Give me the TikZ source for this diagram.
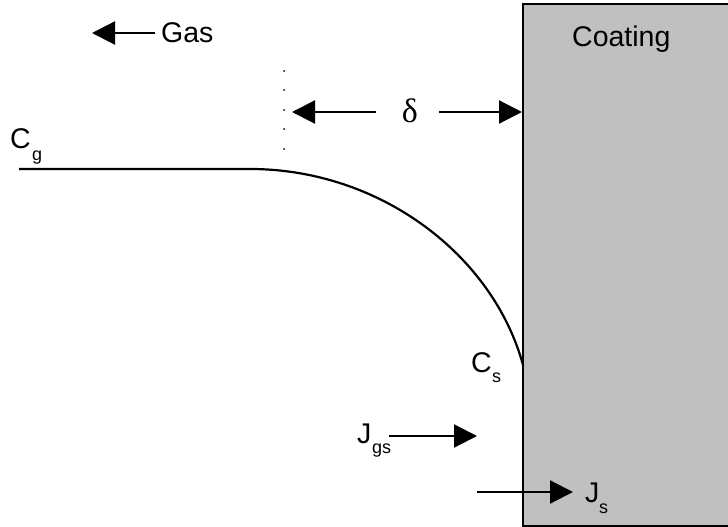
\documentclass[tikz,border=0pt]{standalone}
\usepackage{fontspec}
\setmainfont{Liberation Sans}
\newfontfamily\serifgreek{Liberation Serif}
\usetikzlibrary{arrows.meta}
\begin{document}
\begin{tikzpicture}[x=1pt,y=-1pt,
  lbl/.style={inner sep=0pt,anchor=base west,font=\fontsize{28.5}{30}\selectfont},
  sub/.style={inner sep=0pt,anchor=base west,font=\fontsize{18}{20}\selectfont},
  bigarrow/.style={line width=2.2pt,-{Triangle[length=23pt,width=23pt]}},
  curveline/.style={line width=2.2pt}]
\useasboundingbox (0,0) rectangle (728,527);
% coating block
\draw[fill={rgb,255:red,192;green,192;blue,192},line width=1.2pt] (523,4) rectangle (740,526);
\node[lbl] (coat) at (572,47) {Coating};
% gas label and arrow
\node[lbl] (gas) at (161,43) {Gas};
\coordinate (gasS) at (155,33);
\coordinate (gasE) at (92,33);
\draw[bigarrow] (gasS) -- (gasE);
% dotted boundary
\foreach \yy in {71,90,110,129,149} {
  \fill (284,\yy) circle (1pt);
}
% delta
\node[inner sep=0pt,font=\serifgreek\fontsize{34}{36}\selectfont] (delta) at (410,111) {δ};
\coordinate (dL) at (292,112);
\coordinate (dR) at (522,112);
\draw[bigarrow] (376,112) -- (dL);
\draw[bigarrow] (439,112) -- (dR);
% concentration profile
\coordinate (p0) at (19,169);
\coordinate (p1) at (250,169);
\coordinate (p2) at (523,365);
\draw[curveline] (p0) -- (p1) .. controls (380,169) and (493,255) .. (p2);
% labels
\node[lbl] (Cg) at (10,148) {C};
\node[sub] (Cgs) at (32,160) {g};
\node[lbl] (Cs) at (471,372) {C};
\node[sub] (Css) at (492,382) {s};
\node[lbl] (Jgs) at (357,443) {J};
\node[sub] (Jgss) at (372,453) {gs};
\node[lbl] (Js) at (585,502) {J};
\node[sub] (Jss) at (599,513) {s};
% flux arrows
\coordinate (jgsA) at (389,436);
\coordinate (jgsB) at (477,436);
\draw[bigarrow] (jgsA) -- (jgsB);
\coordinate (jsA) at (477,492);
\coordinate (jsB) at (573,492);
\draw[bigarrow] (jsA) -- (jsB);
\end{tikzpicture}
\end{document}
